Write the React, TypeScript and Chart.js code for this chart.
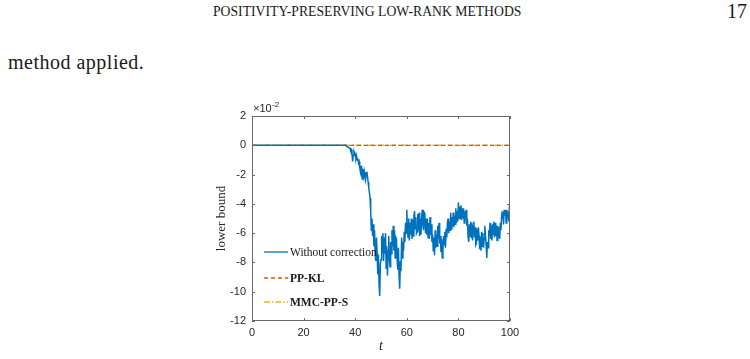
import React, { useEffect, useRef } from "react";
import { Chart, registerables } from "chart.js";

Chart.register(...registerables);

// ---- data (values in units of 1e-2) ----
const tBlue = [
  0,
  36, 36.25, 36.5, 36.75, 37, 37.25, 37.5, 37.75, 38, 38.25, 38.5, 38.75, 39, 39.25, 39.5, 39.75,
  40, 40.25, 40.5, 40.75, 41, 41.25, 41.5, 41.75, 42, 42.25, 42.5, 42.75, 43, 43.25, 43.5, 43.75,
  44, 44.25, 44.5, 44.75, 45, 45.25, 45.5, 45.75, 46, 46.25, 46.5, 46.75, 47, 47.25, 47.5, 47.75,
  48, 48.25, 48.5, 48.75, 49, 49.25, 49.5, 49.75, 50, 50.25, 50.5, 50.75, 51, 51.25, 51.5, 51.75,
  52, 52.25, 52.5, 52.75, 53, 53.25, 53.5, 53.75, 54, 54.25, 54.5, 54.75, 55, 55.25, 55.5, 55.75,
  56, 56.25, 56.5, 56.75, 57, 57.25, 57.5, 57.75, 58, 58.25, 58.5, 58.75, 59, 59.25, 59.5, 59.75,
  60, 60.25, 60.5, 60.75, 61, 61.25, 61.5, 61.75, 62, 62.25, 62.5, 62.75, 63, 63.25, 63.5, 63.75,
  64, 64.25, 64.5, 64.75, 65, 65.25, 65.5, 65.75, 66, 66.25, 66.5, 66.75, 67, 67.25, 67.5, 67.75,
  68, 68.25, 68.5, 68.75, 69, 69.25, 69.5, 69.75, 70, 70.25, 70.5, 70.75, 71, 71.25, 71.5, 71.75,
  72, 72.25, 72.5, 72.75, 73, 73.25, 73.5, 73.75, 74, 74.25, 74.5, 74.75, 75, 75.25, 75.5, 75.75,
  76, 76.25, 76.5, 76.75, 77, 77.25, 77.5, 77.75, 78, 78.25, 78.5, 78.75, 79, 79.25, 79.5, 79.75,
  80, 80.25, 80.5, 80.75, 81, 81.25, 81.5, 81.75, 82, 82.25, 82.5, 82.75, 83, 83.25, 83.5, 83.75,
  84, 84.25, 84.5, 84.75, 85, 85.25, 85.5, 85.75, 86, 86.25, 86.5, 86.75, 87, 87.25, 87.5, 87.75,
  88, 88.25, 88.5, 88.75, 89, 89.25, 89.5, 89.75, 90, 90.25, 90.5, 90.75, 91, 91.25, 91.5, 91.75,
  92, 92.25, 92.5, 92.75, 93, 93.25, 93.5, 93.75, 94, 94.25, 94.5, 94.75, 95, 95.25, 95.5, 95.75,
  96, 96.25, 96.5, 96.75, 97, 97.25, 97.5, 97.75, 98, 98.25, 98.5, 98.75, 99, 99.25, 99.5, 99.75,
  100,
];
const yBlue = [
  0,
  0, 0, -0.05, -0.05, -0.1, -0.12, -0.15, -0.2, -0.2, -0.35, -0.3, -0.5, -1.1, -0.7, -0.4, -0.5,
  -0.6, -0.9, -0.7, -1.0, -0.9, -1.2, -1.1, -1.5, -1.8, -1.4, -2.0, -2.3, -1.6, -2.1, -1.8, -2.2,
  -2.4, -1.9, -1.8, -2.1, -2.5, -2.9, -3.2, -3.6, -4.5, -5.8, -5.0, -6.2, -5.4, -6.9, -5.8, -7.5,
  -7.9, -6.3, -7.4, -8.8, -7.5, -9.5, -10.3, -8.1, -7.8, -6.2, -7.3, -6.0, -7.9, -6.3, -7.4, -6.0,
  -8.4, -6.9, -8.9, -7.2, -6.2, -7.8, -8.3, -6.6, -7.4, -5.8, -6.9, -5.5, -7.2, -5.8, -7.7, -6.3,
  -6.4, -7.8, -8.5, -7.0, -8.9, -9.8, -7.9, -8.6, -6.3, -7.7, -6.6, -7.2, -5.9, -6.6, -5.3, -6.0,
  -4.4, -5.8, -6.3, -5.0, -6.5, -5.3, -6.1, -5.0, -6.4, -5.1, -6.2, -4.8, -4.5, -5.7, -4.9, -6.0,
  -5.9, -4.7, -5.8, -4.6, -6.2, -5.0, -6.1, -4.9, -4.4, -5.5, -5.8, -4.6, -4.7, -6.0, -5.0, -6.1,
  -5.0, -6.3, -5.3, -6.4, -4.9, -6.1, -5.4, -6.6, -6.1, -7.2, -6.3, -7.5, -5.8, -7.0, -6.1, -6.9,
  -5.5, -6.4, -5.3, -6.7, -6.2, -7.3, -6.4, -7.7, -7.2, -6.2, -6.8, -5.9, -7.0, -5.7, -6.3, -5.3,
  -5.0, -6.0, -5.2, -5.8, -4.6, -5.7, -4.9, -5.5, -4.6, -5.6, -4.8, -5.4, -4.3, -5.3, -4.5, -5.2,
  -3.9, -5.0, -4.2, -5.0, -4.1, -5.1, -4.3, -5.0, -4.3, -5.3, -4.5, -5.0, -4.4, -5.5, -5.0, -6.3,
  -6.6, -5.4, -6.2, -5.2, -6.3, -5.3, -6.5, -5.5, -5.2, -6.3, -5.6, -6.8, -6.7, -5.7, -6.5, -5.6,
  -6.2, -7.1, -6.3, -7.2, -5.9, -6.9, -6.0, -7.0, -6.4, -5.5, -6.2, -6.8, -7.7, -6.6, -7.0, -5.8,
  -6.2, -5.3, -6.4, -5.5, -6.5, -5.4, -6.1, -5.2, -6.3, -5.3, -6.2, -5.5, -6.5, -5.5, -6.3, -5.6,
  -6.4, -5.3, -5.8, -4.8, -5.0, -4.5, -5.4, -4.4, -4.8, -4.4, -5.3, -4.4, -5.0, -4.5, -5.2, -4.3,
  -4.4,
];
const tFlat = [0, 100];
const yPPKL = [0, 0];
const yMMC = [0, 0];
const seriesLabels = ["Without correction", "PP-KL", "MMC-PP-S"];
const xTicks = [0, 20, 40, 60, 80, 100];
const yTicks = [-12, -10, -8, -6, -4, -2, 0, 2];

const colors = ["#0072BD", "#D95319", "#EDB120"];
const dashes: number[][] = [[], [4, 3], [6, 2, 1.5, 2]];
const legendBold = [false, true, true];

const toPts = (xs: number[], ys: number[]) => xs.map((x, i) => ({ x, y: ys[i] }));

const framePlugin = {
  id: "frame",
  afterDraw(chart: any) {
    const { ctx, chartArea } = chart;
    const { left, right, top, bottom } = chartArea;
    const xs = chart.scales.x;
    const ys = chart.scales.y;
    ctx.save();
    ctx.strokeStyle = "#6a6a6a";
    ctx.lineWidth = 1;
    ctx.strokeRect(left + 0.5, top + 0.5, right - left - 1, bottom - top - 1);
    ctx.beginPath();
    xTicks.forEach((v) => {
      const px = Math.round(xs.getPixelForValue(v)) + 0.5;
      ctx.moveTo(px, bottom);
      ctx.lineTo(px, bottom - 3);
      ctx.moveTo(px, top);
      ctx.lineTo(px, top + 3);
    });
    yTicks.forEach((v) => {
      const py = Math.round(ys.getPixelForValue(v)) + 0.5;
      ctx.moveTo(left, py);
      ctx.lineTo(left + 3, py);
      ctx.moveTo(right, py);
      ctx.lineTo(right - 3, py);
    });
    ctx.stroke();

    // exponent label
    ctx.fillStyle = "#262626";
    ctx.textBaseline = "alphabetic";
    ctx.textAlign = "left";
    ctx.font = "11px 'Liberation Sans'";
    ctx.fillText("\u00d710", left + 1, top - 4);
    const w = ctx.measureText("\u00d710").width;
    ctx.font = "8px 'Liberation Sans'";
    ctx.fillText("-2", left + 1 + w + 0.5, top - 9);

    // legend inside, bottom-left, no box
    const lx0 = left + 12;
    const lx1 = lx0 + 24;
    const baseY = [252, 278, 302].map((v) => v - 100);
    chart.data.datasets.forEach((ds: any, i: number) => {
      const y = baseY[i];
      ctx.strokeStyle = colors[i];
      ctx.lineWidth = 1.3;
      ctx.setLineDash(dashes[i]);
      ctx.beginPath();
      ctx.moveTo(lx0, y);
      ctx.lineTo(lx1, y);
      ctx.stroke();
      ctx.setLineDash([]);
      ctx.fillStyle = "#1a1a1a";
      ctx.textBaseline = "middle";
      ctx.font = (legendBold[i] ? "bold " : "") + "11.5px 'Liberation Serif'";
      ctx.fillText(ds.label, lx1 + 2, y + 1);
    });
    ctx.restore();
  },
};

export default function App() {
  const ref = useRef<HTMLCanvasElement>(null);
  useEffect(() => {
    if (!ref.current) return;
    const chart = new Chart(ref.current, {
      type: "line",
      data: {
        datasets: [
          {
            label: seriesLabels[0],
            data: toPts(tBlue, yBlue),
            borderColor: colors[0],
            borderWidth: 1.5,
            pointRadius: 0,
            tension: 0,
          },
          {
            label: seriesLabels[1],
            data: toPts(tFlat, yPPKL),
            borderColor: colors[1],
            borderWidth: 1.2,
            borderDash: dashes[1],
            pointRadius: 0,
          },
          {
            label: seriesLabels[2],
            data: toPts(tFlat, yMMC),
            borderColor: colors[2],
            borderWidth: 1.4,
            borderDash: dashes[2],
            pointRadius: 0,
          },
        ],
      },
      options: {
        animation: false,
        responsive: false,
        layout: { padding: { left: 0, right: 20, top: 16, bottom: 0 } },
        plugins: { legend: { display: false }, tooltip: { enabled: false } },
        scales: {
          x: {
            type: "linear",
            min: 0,
            max: 100,
            afterBuildTicks: (s: any) => {
              s.ticks = xTicks.map((v) => ({ value: v }));
            },
            afterFit: (s: any) => {
              s.height = 38;
            },
            grid: { display: false, drawTicks: false },
            border: { display: false },
            ticks: {
              padding: 5,
              color: "#262626",
              font: { family: "'Liberation Sans'", size: 11 },
              maxRotation: 0,
            },
            title: {
              display: true,
              text: "t",
              color: "#262626",
              font: { family: "'Liberation Serif'", size: 14, style: "italic" },
              padding: { top: 0, bottom: 4 },
            },
          },
          y: {
            type: "linear",
            min: -12,
            max: 2,
            afterBuildTicks: (s: any) => {
              s.ticks = yTicks.map((v) => ({ value: v }));
            },
            afterFit: (s: any) => {
              s.width = 52;
            },
            grid: { display: false, drawTicks: false },
            border: { display: false },
            ticks: {
              padding: 6,
              color: "#262626",
              font: { family: "'Liberation Sans'", size: 11 },
            },
            title: {
              display: true,
              text: "lower bound",
              color: "#262626",
              font: { family: "'Liberation Serif'", size: 13 },
              padding: { top: 14, bottom: 0 },
            },
          },
        },
      },
      plugins: [framePlugin],
    });
    return () => chart.destroy();
  }, []);

  return (
    <div
      style={{
        position: "absolute",
        left: 0,
        top: 0,
        width: 750,
        height: 359,
        background: "#fff",
        overflow: "hidden",
        fontFamily: "'Liberation Serif', serif",
        color: "#1a1a1a",
      }}
    >
      <div style={{ position: "absolute", left: 213, top: 4, fontSize: 13.7, whiteSpace: "nowrap" }}>
        POSITIVITY-PRESERVING LOW-RANK METHODS
      </div>
      <div style={{ position: "absolute", left: 727, top: 0, fontSize: 20, whiteSpace: "nowrap" }}>17</div>
      <div
        style={{
          position: "absolute",
          left: 8,
          top: 51,
          fontSize: 20,
          letterSpacing: 0.5,
          whiteSpace: "nowrap",
        }}
      >
        method applied.
      </div>
      <canvas
        ref={ref}
        width={330}
        height={259}
        style={{ position: "absolute", left: 200, top: 100, width: 330, height: 259 }}
      />
    </div>
  );
}
